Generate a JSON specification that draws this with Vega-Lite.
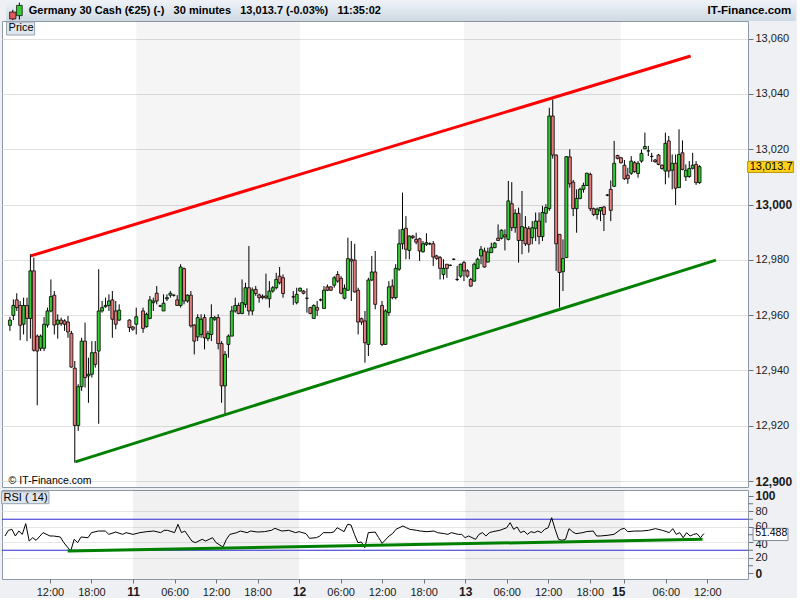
{
  "$schema": "https://vega.github.io/schema/vega-lite/v6.json",
  "background": "#eef0f3",
  "padding": 0,
  "bounds": "flush",
  "spacing": 3,
  "config": {
    "font": "Liberation Sans",
    "view": {"stroke": "#8d99a6", "strokeWidth": 1, "fill": "#ffffff"},
    "axis": {"labelFont": "Liberation Sans", "labelColor": "#1a1a1a", "tickColor": "#6b7580", "domain": false, "labelBound": false, "labelOverlap": false}
  },
  "datasets": {
    "days": [{"start": 24, "end": 48}, {"start": 72, "end": 95}],
    "trend": [
      {"series": "upper", "h": 8.54, "price": 12981.4},
      {"series": "upper", "h": 105.2, "price": 13053.7},
      {"series": "lower", "h": 15.08, "price": 12906.9},
      {"series": "lower", "h": 108.9, "price": 12979.9}
    ],
    "rsiTrend": [{"h": 14.56, "rsi": 29.0}, {"h": 106.3, "rsi": 44.1}],
    "rsiMinor": [{"level": 10}, {"level": 30}, {"level": 50}, {"level": 70}, {"level": 90}],
    "candles": [
      {"h":5.5,"open":12956.3,"high":12959.4,"low":12954.3,"close":12958.2},
      {"h":6.0,"open":12959.9,"high":12965.7,"low":12958.2,"close":12963.5},
      {"h":6.5,"open":12965.5,"high":12967.9,"low":12961.5,"close":12962.7},
      {"h":7.0,"open":12963.5,"high":12965.1,"low":12950.9,"close":12956.3},
      {"h":7.5,"open":12956.7,"high":12966.3,"low":12953.0,"close":12963.5},
      {"h":8.0,"open":12963.5,"high":12966.3,"low":12950.6,"close":12958.8},
      {"h":8.5,"open":12958.8,"high":12982.0,"low":12951.5,"close":12976.0},
      {"h":9.0,"open":12976.0,"high":12980.8,"low":12946.8,"close":12947.3},
      {"h":9.5,"open":12952.4,"high":12953.0,"low":12927.4,"close":12947.0},
      {"h":10.0,"open":12948.0,"high":12953.0,"low":12947.0,"close":12952.4},
      {"h":10.5,"open":12948.0,"high":12959.3,"low":12947.0,"close":12956.7},
      {"h":11.0,"open":12956.4,"high":12962.7,"low":12955.5,"close":12961.5},
      {"h":11.5,"open":12961.5,"high":12972.9,"low":12961.0,"close":12966.7},
      {"h":12.0,"open":12967.2,"high":12968.7,"low":12953.0,"close":12956.4},
      {"h":12.5,"open":12956.7,"high":12960.3,"low":12951.5,"close":12958.2},
      {"h":13.0,"open":12958.2,"high":12959.1,"low":12956.1,"close":12956.9},
      {"h":13.5,"open":12957.9,"high":12958.5,"low":12954.3,"close":12956.7},
      {"h":14.0,"open":12957.5,"high":12959.7,"low":12951.8,"close":12953.9},
      {"h":14.5,"open":12953.4,"high":12954.3,"low":12941.0,"close":12941.2},
      {"h":15.0,"open":12940.8,"high":12943.4,"low":12906.6,"close":12920.1},
      {"h":15.5,"open":12920.1,"high":12935.0,"low":12918.1,"close":12934.1},
      {"h":16.0,"open":12934.1,"high":12951.8,"low":12932.6,"close":12950.6},
      {"h":16.5,"open":12950.6,"high":12957.3,"low":12933.8,"close":12937.4},
      {"h":17.0,"open":12938.0,"high":12944.6,"low":12928.3,"close":12938.6},
      {"h":17.5,"open":12938.6,"high":12950.6,"low":12937.4,"close":12946.4},
      {"h":18.0,"open":12946.4,"high":12950.6,"low":12941.0,"close":12942.2},
      {"h":18.5,"open":12947.0,"high":12976.6,"low":12920.7,"close":12961.5},
      {"h":19.0,"open":12961.5,"high":12965.1,"low":12960.9,"close":12962.7},
      {"h":19.5,"open":12963.0,"high":12966.3,"low":12962.7,"close":12963.5},
      {"h":20.0,"open":12963.5,"high":12967.5,"low":12961.5,"close":12965.1},
      {"h":20.5,"open":12965.5,"high":12968.7,"low":12951.8,"close":12958.5},
      {"h":21.0,"open":12961.5,"high":12965.1,"low":12954.9,"close":12956.7},
      {"h":21.5,"open":12958.2,"high":12963.9,"low":12957.9,"close":12961.8},
      {"h":23.0,"open":12958.2,"high":12958.5,"low":12953.9,"close":12955.5},
      {"h":23.5,"open":12955.7,"high":12956.1,"low":12954.3,"close":12954.9},
      {"h":24.0,"open":12956.7,"high":12962.7,"low":12953.0,"close":12959.4},
      {"h":25.0,"open":12961.5,"high":12962.7,"low":12953.6,"close":12955.2},
      {"h":25.5,"open":12955.8,"high":12960.9,"low":12955.5,"close":12960.3},
      {"h":26.0,"open":12958.8,"high":12966.9,"low":12958.5,"close":12965.5},
      {"h":26.5,"open":12964.5,"high":12966.3,"low":12961.5,"close":12965.1},
      {"h":27.0,"open":12967.9,"high":12970.5,"low":12963.9,"close":12965.1},
      {"h":27.5,"open":12963.3,"high":12963.7,"low":12962.9,"close":12963.3},
      {"h":28.0,"open":12961.5,"high":12967.5,"low":12961.5,"close":12964.3},
      {"h":28.5,"open":12965.9,"high":12967.5,"low":12965.1,"close":12966.3},
      {"h":29.0,"open":12967.2,"high":12968.7,"low":12966.3,"close":12967.9},
      {"h":29.5,"open":12967.2,"high":12967.5,"low":12966.7,"close":12967.2},
      {"h":30.0,"open":12965.5,"high":12967.2,"low":12963.3,"close":12963.5},
      {"h":30.5,"open":12963.5,"high":12978.4,"low":12962.7,"close":12977.4},
      {"h":31.0,"open":12976.8,"high":12977.2,"low":12963.9,"close":12965.1},
      {"h":31.5,"open":12965.1,"high":12967.5,"low":12964.5,"close":12967.2},
      {"h":32.0,"open":12967.2,"high":12968.7,"low":12955.5,"close":12956.1},
      {"h":32.5,"open":12956.4,"high":12956.7,"low":12945.8,"close":12950.6},
      {"h":33.0,"open":12952.1,"high":12960.3,"low":12950.6,"close":12959.1},
      {"h":33.5,"open":12953.0,"high":12960.3,"low":12951.8,"close":12958.5},
      {"h":34.0,"open":12959.1,"high":12960.3,"low":12947.6,"close":12951.8},
      {"h":34.5,"open":12951.5,"high":12954.3,"low":12950.6,"close":12953.3},
      {"h":35.0,"open":12953.0,"high":12963.9,"low":12950.6,"close":12959.1},
      {"h":35.5,"open":12958.5,"high":12959.7,"low":12957.9,"close":12959.1},
      {"h":36.0,"open":12959.1,"high":12960.3,"low":12947.6,"close":12949.7},
      {"h":36.5,"open":12949.7,"high":12950.6,"low":12928.3,"close":12934.4},
      {"h":37.0,"open":12934.4,"high":12947.0,"low":12924.1,"close":12945.8},
      {"h":37.5,"open":12949.4,"high":12953.0,"low":12944.6,"close":12952.4},
      {"h":38.0,"open":12952.4,"high":12963.3,"low":12952.4,"close":12961.5},
      {"h":38.5,"open":12961.5,"high":12966.3,"low":12960.9,"close":12963.5},
      {"h":39.0,"open":12963.5,"high":12964.5,"low":12960.3,"close":12960.6},
      {"h":39.5,"open":12960.6,"high":12972.9,"low":12960.3,"close":12964.5},
      {"h":40.0,"open":12963.9,"high":12971.7,"low":12962.7,"close":12969.9},
      {"h":40.5,"open":12969.9,"high":12985.0,"low":12959.9,"close":12961.5},
      {"h":41.0,"open":12961.5,"high":12970.0,"low":12960.0,"close":12969.1},
      {"h":41.5,"open":12969.3,"high":12970.5,"low":12967.0,"close":12967.8},
      {"h":42.0,"open":12967.3,"high":12967.8,"low":12964.5,"close":12966.3},
      {"h":42.5,"open":12966.8,"high":12967.5,"low":12965.7,"close":12966.3},
      {"h":43.0,"open":12966.9,"high":12975.0,"low":12965.7,"close":12966.3},
      {"h":43.5,"open":12965.9,"high":12972.3,"low":12962.7,"close":12968.7},
      {"h":44.0,"open":12968.7,"high":12970.5,"low":12968.1,"close":12969.9},
      {"h":44.5,"open":12969.9,"high":12975.3,"low":12969.3,"close":12972.9},
      {"h":45.0,"open":12974.1,"high":12977.4,"low":12971.1,"close":12971.7},
      {"h":45.5,"open":12973.5,"high":12974.7,"low":12966.3,"close":12967.8},
      {"h":47.0,"open":12966.6,"high":12968.7,"low":12963.7,"close":12966.6},
      {"h":47.5,"open":12964.5,"high":12969.9,"low":12963.9,"close":12967.5},
      {"h":48.0,"open":12968.7,"high":12970.0,"low":12968.5,"close":12969.7},
      {"h":48.5,"open":12968.7,"high":12969.0,"low":12967.5,"close":12967.9},
      {"h":49.0,"open":12966.1,"high":12969.7,"low":12960.9,"close":12966.1},
      {"h":49.5,"open":12962.7,"high":12963.0,"low":12960.3,"close":12960.6},
      {"h":50.0,"open":12958.8,"high":12963.9,"low":12958.8,"close":12963.5},
      {"h":50.5,"open":12962.7,"high":12965.1,"low":12959.7,"close":12961.8},
      {"h":51.0,"open":12965.5,"high":12966.0,"low":12965.0,"close":12965.5},
      {"h":51.5,"open":12962.4,"high":12970.5,"low":12962.3,"close":12969.0},
      {"h":52.0,"open":12970.2,"high":12971.1,"low":12968.7,"close":12969.0},
      {"h":52.5,"open":12970.2,"high":12970.5,"low":12968.7,"close":12969.0},
      {"h":53.0,"open":12970.8,"high":12974.1,"low":12969.9,"close":12973.5},
      {"h":53.5,"open":12974.7,"high":12975.9,"low":12971.7,"close":12972.3},
      {"h":54.0,"open":12973.3,"high":12974.1,"low":12967.5,"close":12967.9},
      {"h":54.5,"open":12966.1,"high":12971.1,"low":12965.7,"close":12969.7},
      {"h":55.0,"open":12969.0,"high":12988.0,"low":12968.7,"close":12980.4},
      {"h":55.5,"open":12980.2,"high":12986.8,"low":12965.1,"close":12979.6},
      {"h":56.0,"open":12979.9,"high":12985.8,"low":12968.1,"close":12968.4},
      {"h":56.5,"open":12969.0,"high":12969.9,"low":12953.0,"close":12957.5},
      {"h":57.0,"open":12958.7,"high":12959.1,"low":12956.5,"close":12957.5},
      {"h":57.5,"open":12957.9,"high":12961.5,"low":12942.8,"close":12950.0},
      {"h":58.0,"open":12949.4,"high":12973.5,"low":12945.2,"close":12972.7},
      {"h":58.5,"open":12972.7,"high":12981.4,"low":12972.3,"close":12975.6},
      {"h":59.0,"open":12975.6,"high":12983.2,"low":12962.1,"close":12963.9},
      {"h":60.0,"open":12963.5,"high":12965.1,"low":12948.8,"close":12949.4},
      {"h":60.5,"open":12949.4,"high":12962.1,"low":12949.2,"close":12961.5},
      {"h":61.0,"open":12960.9,"high":12972.3,"low":12959.7,"close":12970.2},
      {"h":61.5,"open":12970.5,"high":12972.9,"low":12965.7,"close":12966.3},
      {"h":62.0,"open":12966.3,"high":12978.4,"low":12965.7,"close":12976.9},
      {"h":62.5,"open":12976.6,"high":12991.0,"low":12976.0,"close":12985.8},
      {"h":63.0,"open":12985.8,"high":13004.3,"low":12983.8,"close":12991.0},
      {"h":63.5,"open":12991.4,"high":12995.8,"low":12980.2,"close":12983.8},
      {"h":64.0,"open":12983.4,"high":12988.8,"low":12980.2,"close":12988.6},
      {"h":64.5,"open":12988.6,"high":12989.0,"low":12987.5,"close":12988.0},
      {"h":65.0,"open":12987.4,"high":12989.8,"low":12985.6,"close":12986.4},
      {"h":65.5,"open":12987.6,"high":12988.0,"low":12979.6,"close":12983.2},
      {"h":66.0,"open":12982.9,"high":12986.8,"low":12982.6,"close":12985.8},
      {"h":66.5,"open":12985.6,"high":12989.6,"low":12985.0,"close":12986.2},
      {"h":67.0,"open":12985.8,"high":12986.3,"low":12985.3,"close":12985.8},
      {"h":67.5,"open":12985.8,"high":12986.8,"low":12977.8,"close":12981.0},
      {"h":68.0,"open":12981.4,"high":12981.8,"low":12980.0,"close":12980.5},
      {"h":68.5,"open":12980.8,"high":12981.4,"low":12972.9,"close":12976.9},
      {"h":69.0,"open":12974.7,"high":12980.2,"low":12972.9,"close":12976.9},
      {"h":69.5,"open":12978.4,"high":12978.4,"low":12973.5,"close":12976.9},
      {"h":70.0,"open":12978.0,"high":12978.3,"low":12977.7,"close":12978.0},
      {"h":70.5,"open":12980.2,"high":12980.5,"low":12979.9,"close":12980.2},
      {"h":71.0,"open":12972.9,"high":12977.8,"low":12972.3,"close":12972.9},
      {"h":71.5,"open":12974.1,"high":12978.6,"low":12973.5,"close":12978.4},
      {"h":72.0,"open":12979.0,"high":12979.6,"low":12972.3,"close":12976.0},
      {"h":72.5,"open":12976.0,"high":12976.6,"low":12973.5,"close":12974.1},
      {"h":73.0,"open":12972.9,"high":12973.5,"low":12970.2,"close":12970.5},
      {"h":73.5,"open":12972.3,"high":12979.0,"low":12972.1,"close":12978.4},
      {"h":74.0,"open":12976.9,"high":12980.8,"low":12976.6,"close":12980.2},
      {"h":74.5,"open":12981.4,"high":12985.0,"low":12978.4,"close":12983.8},
      {"h":75.0,"open":12983.2,"high":12984.4,"low":12977.2,"close":12977.4},
      {"h":75.5,"open":12979.2,"high":12984.4,"low":12979.0,"close":12982.8},
      {"h":76.0,"open":12982.6,"high":12986.2,"low":12982.6,"close":12984.4},
      {"h":76.5,"open":12984.4,"high":12986.4,"low":12984.2,"close":12986.0},
      {"h":77.0,"open":12987.8,"high":12992.8,"low":12986.8,"close":12987.0},
      {"h":77.5,"open":12987.8,"high":12991.0,"low":12987.4,"close":12990.7},
      {"h":78.0,"open":12989.0,"high":12991.0,"low":12983.4,"close":12988.3},
      {"h":78.5,"open":12987.4,"high":13008.5,"low":12987.0,"close":13001.3},
      {"h":79.0,"open":13000.3,"high":13008.1,"low":12990.4,"close":12991.6},
      {"h":79.5,"open":12991.6,"high":12998.3,"low":12989.8,"close":12996.8},
      {"h":80.0,"open":12996.8,"high":12998.9,"low":12979.0,"close":12987.0},
      {"h":80.5,"open":12987.0,"high":13004.9,"low":12982.0,"close":12992.0},
      {"h":81.0,"open":12991.6,"high":12995.8,"low":12985.0,"close":12985.8},
      {"h":81.5,"open":12991.3,"high":12992.2,"low":12982.6,"close":12985.6},
      {"h":82.0,"open":12988.0,"high":12994.0,"low":12985.6,"close":12991.6},
      {"h":82.5,"open":12991.4,"high":12997.1,"low":12986.8,"close":12994.0},
      {"h":83.0,"open":12994.0,"high":12997.1,"low":12985.6,"close":12988.4},
      {"h":83.5,"open":12988.4,"high":12999.5,"low":12986.8,"close":12997.1},
      {"h":84.0,"open":12996.8,"high":13000.1,"low":12993.4,"close":12998.9},
      {"h":84.5,"open":12998.5,"high":13035.0,"low":12997.7,"close":13032.0},
      {"h":85.0,"open":13032.0,"high":13038.0,"low":13016.6,"close":13017.9},
      {"h":85.5,"open":13017.9,"high":13018.1,"low":12976.0,"close":12985.8},
      {"h":86.0,"open":12989.2,"high":12989.2,"low":12962.7,"close":12975.4},
      {"h":86.5,"open":12975.7,"high":12987.4,"low":12968.7,"close":12980.5},
      {"h":87.0,"open":12980.8,"high":13017.5,"low":12980.8,"close":13017.3},
      {"h":87.5,"open":13017.2,"high":13020.0,"low":13006.1,"close":13007.5},
      {"h":88.0,"open":13008.1,"high":13008.9,"low":12995.8,"close":12998.5},
      {"h":88.5,"open":12998.5,"high":13005.5,"low":12989.8,"close":13002.2},
      {"h":89.0,"open":13002.2,"high":13006.1,"low":13001.9,"close":13005.5},
      {"h":89.5,"open":13005.5,"high":13007.9,"low":13004.3,"close":13006.9},
      {"h":90.0,"open":13006.9,"high":13011.5,"low":13006.7,"close":13011.3},
      {"h":90.5,"open":13010.9,"high":13011.5,"low":12997.6,"close":12998.5},
      {"h":91.0,"open":12998.5,"high":12998.9,"low":12995.8,"close":12996.4},
      {"h":91.5,"open":12996.4,"high":12998.9,"low":12994.6,"close":12998.3},
      {"h":92.0,"open":12997.7,"high":12999.1,"low":12994.0,"close":12998.9},
      {"h":92.5,"open":12999.1,"high":12999.5,"low":12990.4,"close":12996.4},
      {"h":93.0,"open":13003.4,"high":13003.8,"low":13003.0,"close":13003.4},
      {"h":93.5,"open":13005.5,"high":13008.7,"low":12994.0,"close":12997.9},
      {"h":94.0,"open":13006.6,"high":13023.0,"low":13006.3,"close":13014.9},
      {"h":94.5,"open":13017.7,"high":13018.0,"low":13016.3,"close":13016.7},
      {"h":95.0,"open":13016.9,"high":13017.2,"low":13014.8,"close":13015.1},
      {"h":95.5,"open":13014.2,"high":13016.1,"low":13008.9,"close":13009.3},
      {"h":96.0,"open":13010.6,"high":13013.3,"low":13007.5,"close":13009.3},
      {"h":96.5,"open":13011.3,"high":13017.5,"low":13010.7,"close":13015.7},
      {"h":97.0,"open":13015.1,"high":13015.7,"low":13011.5,"close":13011.9},
      {"h":97.5,"open":13011.2,"high":13015.7,"low":13009.7,"close":13014.9},
      {"h":98.0,"open":13015.7,"high":13019.9,"low":13015.1,"close":13018.5},
      {"h":98.5,"open":13020.2,"high":13026.0,"low":13019.9,"close":13021.0},
      {"h":99.0,"open":13019.4,"high":13021.2,"low":13017.5,"close":13019.4},
      {"h":99.5,"open":13017.4,"high":13018.7,"low":13015.4,"close":13017.4},
      {"h":100.0,"open":13016.1,"high":13016.5,"low":13015.1,"close":13015.5},
      {"h":100.5,"open":13017.9,"high":13018.3,"low":13014.2,"close":13014.5},
      {"h":101.0,"open":13014.2,"high":13014.5,"low":13012.6,"close":13013.0},
      {"h":101.5,"open":13012.1,"high":13026.0,"low":13007.3,"close":13022.1},
      {"h":102.0,"open":13023.0,"high":13024.8,"low":13009.7,"close":13012.1},
      {"h":102.5,"open":13012.4,"high":13018.1,"low":13005.5,"close":13014.9},
      {"h":103.0,"open":13014.9,"high":13018.1,"low":12999.8,"close":13005.9},
      {"h":103.5,"open":13006.1,"high":13027.2,"low":13006.0,"close":13018.1},
      {"h":104.0,"open":13018.7,"high":13023.2,"low":13012.4,"close":13012.7},
      {"h":104.5,"open":13010.0,"high":13014.5,"low":13008.5,"close":13012.4},
      {"h":105.0,"open":13010.1,"high":13015.7,"low":13009.7,"close":13013.0},
      {"h":105.5,"open":13013.1,"high":13018.7,"low":13012.7,"close":13014.2},
      {"h":106.0,"open":13014.5,"high":13015.7,"low":13007.1,"close":13007.9},
      {"h":106.5,"open":13007.9,"high":13014.2,"low":13007.5,"close":13013.7}
    ],
    "rsi": [
      {"h":5.5,"rsi":48.4},{"h":6.0,"rsi":55.7},{"h":6.5,"rsi":57.0},{"h":7.0,"rsi":48.4},{"h":7.5,"rsi":54.8},
      {"h":8.0,"rsi":50.5},{"h":8.5,"rsi":64.3},{"h":9.0,"rsi":41.9},{"h":9.5,"rsi":46.2},{"h":10.0,"rsi":42.8},
      {"h":11.0,"rsi":52.7},{"h":12.0,"rsi":48.4},{"h":12.5,"rsi":48.4},{"h":13.5,"rsi":47.1},{"h":14.0,"rsi":39.8},
      {"h":15.0,"rsi":29.0},{"h":15.5,"rsi":44.1},{"h":16.0,"rsi":39.8},{"h":16.5,"rsi":47.1},{"h":17.5,"rsi":46.2},
      {"h":18.0,"rsi":52.7},{"h":19.0,"rsi":54.8},{"h":20.0,"rsi":54.8},{"h":20.5,"rsi":50.5},{"h":21.5,"rsi":53.5},
      {"h":22.5,"rsi":50.5},{"h":23.0,"rsi":52.7},{"h":24.0,"rsi":50.5},{"h":25.0,"rsi":52.7},{"h":26.0,"rsi":54.0},
      {"h":27.0,"rsi":54.8},{"h":28.0,"rsi":52.7},{"h":28.5,"rsi":55.7},{"h":29.0,"rsi":55.7},{"h":30.0,"rsi":52.7},
      {"h":30.5,"rsi":63.4},{"h":31.0,"rsi":52.7},{"h":31.5,"rsi":54.8},{"h":32.5,"rsi":41.9},{"h":33.0,"rsi":39.8},
      {"h":34.0,"rsi":44.1},{"h":34.5,"rsi":41.9},{"h":35.5,"rsi":46.2},{"h":36.0,"rsi":39.8},{"h":37.0,"rsi":34.2},
      {"h":37.5,"rsi":44.1},{"h":38.0,"rsi":50.5},{"h":39.0,"rsi":52.7},{"h":39.5,"rsi":54.8},{"h":40.5,"rsi":52.7},
      {"h":41.0,"rsi":54.8},{"h":42.0,"rsi":53.5},{"h":43.0,"rsi":54.0},{"h":44.0,"rsi":55.7},{"h":44.5,"rsi":58.3},
      {"h":45.5,"rsi":54.8},{"h":46.5,"rsi":55.7},{"h":47.5,"rsi":52.7},{"h":48.0,"rsi":54.0},{"h":49.0,"rsi":51.4},
      {"h":49.5,"rsi":45.4},{"h":50.5,"rsi":46.2},{"h":51.0,"rsi":48.4},{"h":51.5,"rsi":52.7},{"h":52.5,"rsi":52.7},
      {"h":53.0,"rsi":53.5},{"h":53.5,"rsi":59.1},{"h":54.5,"rsi":54.0},{"h":55.0,"rsi":63.4},{"h":55.5,"rsi":62.6},
      {"h":56.0,"rsi":50.5},{"h":56.5,"rsi":39.8},{"h":57.0,"rsi":40.6},{"h":57.5,"rsi":33.3},{"h":58.0,"rsi":52.7},
      {"h":59.0,"rsi":53.5},{"h":59.5,"rsi":46.2},{"h":60.0,"rsi":38.9},{"h":61.0,"rsi":48.4},{"h":61.5,"rsi":51.4},
      {"h":62.0,"rsi":57.0},{"h":63.0,"rsi":61.3},{"h":63.5,"rsi":59.1},{"h":64.0,"rsi":57.0},{"h":65.0,"rsi":55.7},
      {"h":65.5,"rsi":54.8},{"h":66.5,"rsi":54.0},{"h":67.5,"rsi":54.8},{"h":68.0,"rsi":52.7},{"h":69.0,"rsi":51.4},
      {"h":69.5,"rsi":50.5},{"h":70.0,"rsi":52.7},{"h":71.0,"rsi":50.5},{"h":71.5,"rsi":50.5},{"h":72.0,"rsi":46.2},
      {"h":72.5,"rsi":48.4},{"h":73.5,"rsi":44.1},{"h":74.0,"rsi":50.5},{"h":74.5,"rsi":52.7},{"h":75.0,"rsi":48.4},
      {"h":75.5,"rsi":52.7},{"h":76.0,"rsi":54.0},{"h":77.0,"rsi":55.7},{"h":78.0,"rsi":59.1},{"h":78.5,"rsi":65.6},
      {"h":79.0,"rsi":57.0},{"h":79.5,"rsi":60.0},{"h":80.0,"rsi":52.7},{"h":80.5,"rsi":54.8},{"h":81.0,"rsi":50.5},
      {"h":81.5,"rsi":54.0},{"h":82.0,"rsi":52.7},{"h":82.5,"rsi":54.8},{"h":83.0,"rsi":52.7},{"h":83.5,"rsi":57.0},
      {"h":84.0,"rsi":59.1},{"h":84.5,"rsi":72.0},{"h":85.0,"rsi":57.0},{"h":85.5,"rsi":44.1},{"h":86.0,"rsi":42.8},
      {"h":86.5,"rsi":44.1},{"h":87.0,"rsi":57.9},{"h":87.5,"rsi":54.0},{"h":88.0,"rsi":51.4},{"h":89.0,"rsi":52.7},
      {"h":89.5,"rsi":54.0},{"h":90.5,"rsi":54.8},{"h":91.0,"rsi":48.4},{"h":91.5,"rsi":48.4},{"h":92.5,"rsi":49.2},
      {"h":93.5,"rsi":50.5},{"h":94.5,"rsi":57.0},{"h":95.0,"rsi":58.3},{"h":95.5,"rsi":54.0},{"h":96.5,"rsi":54.8},
      {"h":97.5,"rsi":54.8},{"h":98.5,"rsi":55.7},{"h":99.5,"rsi":57.9},{"h":100.5,"rsi":55.7},{"h":101.5,"rsi":52.7},
      {"h":102.0,"rsi":57.9},{"h":102.5,"rsi":50.5},{"h":103.0,"rsi":52.7},{"h":103.5,"rsi":46.2},{"h":104.0,"rsi":52.7},
      {"h":104.5,"rsi":48.4},{"h":105.0,"rsi":50.5},{"h":105.5,"rsi":51.4},{"h":106.0,"rsi":46.2},{"h":106.5,"rsi":51.5}
    ]
  },
  "vconcat": [
    {
      "width": 746,
      "height": 466,
      "layer": [
        {
          "data": {"values": [{}]},
          "mark": {"type": "rect", "clip": false, "strokeWidth": 0,
            "fill": {"gradient": "linear", "x1": 0, "y1": 0, "x2": 0, "y2": 1,
              "stops": [{"offset": 0, "color": "#edf2f7"}, {"offset": 1, "color": "#cfd9e3"}]}},
          "encoding": {
            "x": {"datum": 4.92, "type": "quantitative", "scale": {"domain": [5.07, 112.87], "nice": false, "zero": false}, "axis": null},
            "x2": {"datum": 120.6},
            "y": {"datum": 13073.6, "type": "quantitative", "scale": {"domain": [12897.83, 13066.37], "nice": false, "zero": false}},
            "y2": {"datum": 13066.37}
          }
        },
        {
          "data": {"values": [{}]},
          "mark": {"type": "rule", "clip": false, "color": "#000000", "strokeWidth": 1},
          "encoding": {
            "x": {"datum": 5.92, "type": "quantitative", "scale": {"domain": [5.07, 112.87], "nice": false, "zero": false}, "axis": null},
            "y": {"datum": 13070.4, "type": "quantitative", "scale": {"domain": [12897.83, 13066.37], "nice": false, "zero": false}},
            "y2": {"datum": 13066.7}
          }
        },
        {
          "data": {"values": [{}]},
          "mark": {"type": "rect", "clip": false, "fill": "#e05a5a", "stroke": "#000000", "strokeWidth": 0.7},
          "encoding": {
            "x": {"datum": 5.45, "type": "quantitative", "scale": {"domain": [5.07, 112.87], "nice": false, "zero": false}, "axis": null},
            "x2": {"datum": 6.38},
            "y": {"datum": 13069.6, "type": "quantitative", "scale": {"domain": [12897.83, 13066.37], "nice": false, "zero": false}},
            "y2": {"datum": 13067.1}
          }
        },
        {
          "data": {"values": [{}]},
          "mark": {"type": "rule", "clip": false, "color": "#000000", "strokeWidth": 1},
          "encoding": {
            "x": {"datum": 6.88, "type": "quantitative", "scale": {"domain": [5.07, 112.87], "nice": false, "zero": false}, "axis": null},
            "y": {"datum": 13073.0, "type": "quantitative", "scale": {"domain": [12897.83, 13066.37], "nice": false, "zero": false}},
            "y2": {"datum": 13066.9}
          }
        },
        {
          "data": {"values": [{}]},
          "mark": {"type": "rect", "clip": false, "fill": "#33cc33", "stroke": "#000000", "strokeWidth": 0.7},
          "encoding": {
            "x": {"datum": 6.47, "type": "quantitative", "scale": {"domain": [5.07, 112.87], "nice": false, "zero": false}, "axis": null},
            "x2": {"datum": 7.3},
            "y": {"datum": 13072.0, "type": "quantitative", "scale": {"domain": [12897.83, 13066.37], "nice": false, "zero": false}},
            "y2": {"datum": 13068.3}
          }
        },
        {
          "data": {"name": "days"},
          "mark": {"type": "rect", "fill": "#000000", "opacity": 0.04},
          "encoding": {
            "x": {"field": "start", "type": "quantitative", "scale": {"domain": [5.07, 112.87], "nice": false, "zero": false}, "axis": null},
            "x2": {"field": "end"}
          }
        },
        {
          "data": {"name": "candles"},
          "mark": {"type": "rule", "color": "#000000", "strokeWidth": 1},
          "encoding": {
            "x": {"field": "h", "type": "quantitative", "scale": {"domain": [5.07, 112.87], "nice": false, "zero": false}, "axis": null},
            "y": {"field": "low", "type": "quantitative", "scale": {"domain": [12897.83, 13066.37], "nice": false, "zero": false},
              "axis": {
                "orient": "right", "title": null, "domain": false,
                "values": [12900, 12910, 12920, 12930, 12940, 12950, 12960, 12970, 12980, 12990, 13000, 13010, 13020, 13030, 13040, 13050, 13060],
                "labelExpr": "datum.value % 20 == 0 ? format(datum.value, ',') : ''",
                "labelOverlap": false, "labelFlush": false, "labelBound": false, "labelPadding": 2, "tickSize": 5,
                "labelFontSize": {"condition": {"test": "datum.value == 13000 || datum.value == 12900", "value": 12}, "value": 11},
                "labelFontWeight": {"condition": {"test": "datum.value == 13000 || datum.value == 12900", "value": "bold"}, "value": "normal"},
                "grid": true, "gridColor": "#e0e0e0",
                "gridOpacity": {"condition": {"test": "datum.value % 20 == 0", "value": 1}, "value": 0}
              }},
            "y2": {"field": "high"}
          }
        },
        {
          "data": {"name": "candles"},
          "mark": {"type": "bar", "width": 3, "stroke": "#000000", "strokeWidth": 0.8},
          "encoding": {
            "x": {"field": "h", "type": "quantitative", "scale": {"domain": [5.07, 112.87], "nice": false, "zero": false}, "axis": null},
            "y": {"field": "open", "type": "quantitative", "scale": {"domain": [12897.83, 13066.37], "nice": false, "zero": false}},
            "y2": {"field": "close"},
            "fill": {"condition": {"test": "datum.close >= datum.open", "value": "#33cc33"}, "value": "#e47c7c"}
          }
        },
        {
          "data": {"name": "trend"},
          "mark": {"type": "line", "strokeWidth": 3},
          "encoding": {
            "x": {"field": "h", "type": "quantitative", "scale": {"domain": [5.07, 112.87], "nice": false, "zero": false}, "axis": null},
            "y": {"field": "price", "type": "quantitative", "scale": {"domain": [12897.83, 13066.37], "nice": false, "zero": false}},
            "color": {"field": "series", "type": "nominal", "scale": {"domain": ["upper", "lower"], "range": ["#ff0000", "#008000"]}, "legend": null}
          }
        },
        {
          "data": {"values": [{}]},
          "mark": {"type": "rect", "clip": false, "fill": "#dde5ed", "stroke": "#9aa6b2", "strokeWidth": 1},
          "encoding": {
            "x": {"datum": 5.0, "type": "quantitative", "scale": {"domain": [5.07, 112.87], "nice": false, "zero": false}, "axis": null},
            "x2": {"datum": 9.12},
            "y": {"datum": 13066.0, "type": "quantitative", "scale": {"domain": [12897.83, 13066.37], "nice": false, "zero": false}},
            "y2": {"datum": 13061.3}
          }
        },
        {
          "data": {"values": [{}]},
          "mark": {"type": "text", "clip": false, "text": "Price", "align": "left", "baseline": "middle", "fontSize": 11, "color": "#000000"},
          "encoding": {
            "x": {"datum": 5.3, "type": "quantitative", "scale": {"domain": [5.07, 112.87], "nice": false, "zero": false}, "axis": null},
            "y": {"datum": 13063.7, "type": "quantitative", "scale": {"domain": [12897.83, 13066.37], "nice": false, "zero": false}}
          }
        },
        {
          "data": {"values": [{}]},
          "mark": {"type": "text", "clip": false, "text": "© IT-Finance.com", "align": "left", "baseline": "middle", "fontSize": 10.5, "color": "#000000"},
          "encoding": {
            "x": {"datum": 5.3, "type": "quantitative", "scale": {"domain": [5.07, 112.87], "nice": false, "zero": false}, "axis": null},
            "y": {"datum": 12900.0, "type": "quantitative", "scale": {"domain": [12897.83, 13066.37], "nice": false, "zero": false}}
          }
        },
        {
          "data": {"values": [{}]},
          "mark": {"type": "text", "clip": false, "text": "Germany 30 Cash (€25) (-)\u00a0\u00a0 30 minutes\u00a0\u00a0 13,013.7 (-0.03%)\u00a0\u00a0 11:35:02", "align": "left", "baseline": "middle", "fontSize": 11, "fontWeight": "bold", "color": "#000000"},
          "encoding": {
            "x": {"datum": 8.25, "type": "quantitative", "scale": {"domain": [5.07, 112.87], "nice": false, "zero": false}, "axis": null},
            "y": {"datum": 13070.0, "type": "quantitative", "scale": {"domain": [12897.83, 13066.37], "nice": false, "zero": false}}
          }
        },
        {
          "data": {"values": [{}]},
          "mark": {"type": "text", "clip": false, "text": "IT-Finance.com", "align": "right", "baseline": "middle", "fontSize": 11.5, "fontWeight": "bold", "color": "#000000"},
          "encoding": {
            "x": {"datum": 119.95, "type": "quantitative", "scale": {"domain": [5.07, 112.87], "nice": false, "zero": false}, "axis": null},
            "y": {"datum": 13070.0, "type": "quantitative", "scale": {"domain": [12897.83, 13066.37], "nice": false, "zero": false}}
          }
        },
        {
          "data": {"values": [{}]},
          "mark": {"type": "rect", "clip": false, "fill": "#ffd21a", "stroke": "#b89100", "strokeWidth": 1},
          "encoding": {
            "x": {"datum": 113.55, "type": "quantitative", "scale": {"domain": [5.07, 112.87], "nice": false, "zero": false}, "axis": null},
            "x2": {"datum": 120.25},
            "y": {"datum": 13015.6, "type": "quantitative", "scale": {"domain": [12897.83, 13066.37], "nice": false, "zero": false}},
            "y2": {"datum": 13011.6}
          }
        },
        {
          "data": {"values": [{}]},
          "mark": {"type": "text", "clip": false, "text": "13,013.7", "align": "left", "baseline": "middle", "fontSize": 11, "color": "#000000"},
          "encoding": {
            "x": {"datum": 113.85, "type": "quantitative", "scale": {"domain": [5.07, 112.87], "nice": false, "zero": false}, "axis": null},
            "y": {"datum": 13013.6, "type": "quantitative", "scale": {"domain": [12897.83, 13066.37], "nice": false, "zero": false}}
          }
        }
      ]
    },
    {
      "width": 746,
      "height": 89,
      "resolve": {"axis": {"x": "independent", "y": "independent"}},
      "layer": [
        {
          "data": {"name": "days"},
          "mark": {"type": "rect", "fill": "#000000", "opacity": 0.055},
          "encoding": {
            "x": {"field": "start", "type": "quantitative", "scale": {"domain": [5.07, 112.87], "nice": false, "zero": false},
              "axis": {
                "title": null, "domain": false, "grid": false,
                "values": [12, 18, 24, 30, 36, 42, 48, 54, 60, 66, 72, 78, 84, 90, 95, 101, 107],
                "labelExpr": "datum.value == 24 ? '11' : datum.value == 48 ? '12' : datum.value == 72 ? '13' : datum.value == 95 ? '15' : (datum.value > 95 ? ((datum.value - 95) % 24 == 6 ? '06:00' : '12:00') : (datum.value % 24 == 6 ? '06:00' : datum.value % 24 == 12 ? '12:00' : '18:00'))",
                "labelOverlap": false, "labelFlush": false, "labelBound": false, "labelPadding": 3, "tickSize": 4,
                "labelFontSize": {"condition": {"test": "datum.value == 24 || datum.value == 48 || datum.value == 72 || datum.value == 95", "value": 12}, "value": 11},
                "labelFontWeight": {"condition": {"test": "datum.value == 24 || datum.value == 48 || datum.value == 72 || datum.value == 95", "value": "bold"}, "value": "normal"},
                "labelOffset": {"condition": {"test": "datum.value == 95", "value": -6}, "value": 0}
              }},
            "x2": {"field": "end"}
          }
        },
        {
          "data": {"values": [{"level": 70}, {"level": 30}]},
          "mark": {"type": "rule", "color": "#2a2ad4", "strokeWidth": 1},
          "encoding": {
            "y": {"field": "level", "type": "quantitative", "scale": {"domain": [-7.1, 107.74], "nice": false, "zero": false}, "axis": null}
          }
        },
        {
          "data": {"name": "rsi"},
          "mark": {"type": "line", "color": "#000000", "strokeWidth": 1},
          "encoding": {
            "x": {"field": "h", "type": "quantitative", "scale": {"domain": [5.07, 112.87], "nice": false, "zero": false}, "axis": null},
            "y": {"field": "rsi", "type": "quantitative", "scale": {"domain": [-7.1, 107.74], "nice": false, "zero": false},
              "axis": {
                "orient": "right", "title": null, "domain": false,
                "values": [0, 20, 40, 60, 80, 100],
                "labelOverlap": false, "labelFlush": false, "labelBound": false, "labelPadding": 2, "tickSize": 5,
                "labelOffset": {"condition": {"test": "datum.value == 40", "value": 2}, "value": 0},
                "labelFontSize": {"condition": {"test": "datum.value == 0 || datum.value == 100", "value": 12}, "value": 11},
                "labelFontWeight": {"condition": {"test": "datum.value == 0 || datum.value == 100", "value": "bold"}, "value": "normal"},
                "grid": true, "gridColor": "#e6e6e6",
                "gridOpacity": {"condition": {"test": "datum.value > 0 && datum.value < 100", "value": 1}, "value": 0}
              }}
          }
        },
        {
          "data": {"name": "rsiMinor"},
          "mark": {"type": "rule", "clip": false, "color": "#6b7580", "strokeWidth": 1},
          "encoding": {
            "x": {"datum": 112.87, "type": "quantitative", "scale": {"domain": [5.07, 112.87], "nice": false, "zero": false}, "axis": null},
            "x2": {"datum": 113.59},
            "y": {"field": "level", "type": "quantitative", "scale": {"domain": [-7.1, 107.74], "nice": false, "zero": false}, "axis": null}
          }
        },
        {
          "data": {"name": "rsiTrend"},
          "mark": {"type": "line", "color": "#008000", "strokeWidth": 3},
          "encoding": {
            "x": {"field": "h", "type": "quantitative", "scale": {"domain": [5.07, 112.87], "nice": false, "zero": false}, "axis": null},
            "y": {"field": "rsi", "type": "quantitative", "scale": {"domain": [-7.1, 107.74], "nice": false, "zero": false}, "axis": null}
          }
        },
        {
          "data": {"values": [{}]},
          "mark": {"type": "rect", "clip": false, "fill": "#dde5ed", "stroke": "#9aa6b2", "strokeWidth": 1},
          "encoding": {
            "x": {"datum": 5.0, "type": "quantitative", "scale": {"domain": [5.07, 112.87], "nice": false, "zero": false}, "axis": null},
            "x2": {"datum": 11.86},
            "y": {"datum": 105.5, "type": "quantitative", "scale": {"domain": [-7.1, 107.74], "nice": false, "zero": false}, "axis": null},
            "y2": {"datum": 90.1}
          }
        },
        {
          "data": {"values": [{}]},
          "mark": {"type": "text", "clip": false, "text": "RSI ( 14)", "align": "left", "baseline": "middle", "fontSize": 11, "color": "#000000"},
          "encoding": {
            "x": {"datum": 5.3, "type": "quantitative", "scale": {"domain": [5.07, 112.87], "nice": false, "zero": false}, "axis": null},
            "y": {"datum": 97.8, "type": "quantitative", "scale": {"domain": [-7.1, 107.74], "nice": false, "zero": false}, "axis": null}
          }
        },
        {
          "data": {"values": [{}]},
          "mark": {"type": "rect", "clip": false, "fill": "#ffffff", "stroke": "#7f8b97", "strokeWidth": 1},
          "encoding": {
            "x": {"datum": 113.6, "type": "quantitative", "scale": {"domain": [5.07, 112.87], "nice": false, "zero": false}, "axis": null},
            "x2": {"datum": 118.65},
            "y": {"datum": 58.3, "type": "quantitative", "scale": {"domain": [-7.1, 107.74], "nice": false, "zero": false}, "axis": null},
            "y2": {"datum": 42.5}
          }
        },
        {
          "data": {"values": [{}]},
          "mark": {"type": "text", "clip": false, "text": "51.488", "align": "left", "baseline": "middle", "fontSize": 10.5, "color": "#000000"},
          "encoding": {
            "x": {"datum": 113.9, "type": "quantitative", "scale": {"domain": [5.07, 112.87], "nice": false, "zero": false}, "axis": null},
            "y": {"datum": 52.3, "type": "quantitative", "scale": {"domain": [-7.1, 107.74], "nice": false, "zero": false}, "axis": null}
          }
        }
      ]
    }
  ]
}
